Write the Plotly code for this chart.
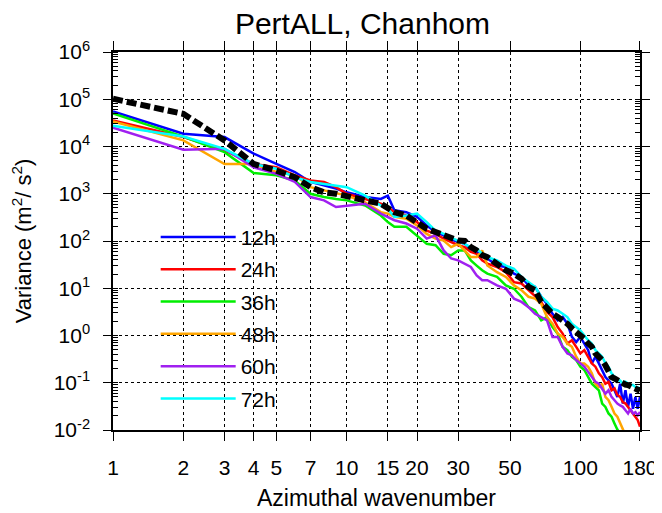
import plotly.graph_objects as go

wavenumber = [1, 2, 3, 4, 5, 6, 7, 8, 9, 10, 12, 14, 15, 16, 18, 20, 22, 24, 26, 28, 30,
              32, 34, 36, 38, 40, 44, 48, 52, 56, 60, 64, 68, 72, 76, 80, 84, 88, 92, 96,
              100, 104, 108, 112, 116, 120, 124, 128, 132, 136, 140, 144, 148, 152, 156,
              160, 164, 168, 172, 176, 180]

# log10 of variance (m^2/s^2)
log_12h = [4.74, 4.27, 4.20, 3.85, 3.63, 3.46, 3.25, 3.18, 3.11, 3.03, 2.93, 2.89, 2.96, 2.65, 2.61, 2.51,
           2.33, 2.19, 2.12, 2.03, 1.98, 1.94, 1.84, 1.77, 1.70, 1.63, 1.48, 1.45, 1.31, 1.24, 1.06,
           1.03, 0.82, 0.67, 0.46, 0.32, 0.39, 0.25, -0.03, -0.14, -0.03, -0.17, -0.31, -0.59, -0.45,
           -0.59, -0.73, -0.88, -0.95, -1.02, -1.16, -1.30, -1.02, -1.44, -1.16, -1.51, -1.23, -1.55,
           -1.30, -1.55, -1.30]
log_24h = [4.55, 4.20, 3.92, 3.63, 3.56, 3.39, 3.28, 3.25, 3.14, 3.00, 2.89, 2.79, 2.72, 2.61, 2.54, 2.40,
           2.22, 2.15, 2.05, 1.98, 1.91, 1.87, 1.77, 1.73, 1.59, 1.52, 1.45, 1.34, 1.13, 1.10, 0.96,
           0.82, 0.71, 0.50, 0.39, 0.18, 0.04, -0.17, -0.10, -0.24, -0.38, -0.31, -0.45, -0.59, -0.66,
           -0.80, -0.88, -1.02, -0.98, -1.16, -1.12, -1.26, -1.30, -1.41, -1.44, -1.51, -1.58, -1.65,
           -1.72, -1.79, -1.93]
log_36h = [4.70, 4.21, 3.88, 3.44, 3.39, 3.28, 3.00, 2.93, 2.89, 2.86, 2.75, 2.54, 2.40, 2.30, 2.30, 2.12,
           1.94, 1.91, 1.73, 1.70, 1.80, 1.80, 1.59, 1.48, 1.38, 1.31, 1.24, 1.06, 0.99, 0.82, 0.60,
           0.53, 0.32, 0.39, 0.18, 0.04, -0.24, -0.31, -0.45, -0.52, -0.66, -0.73, -0.88, -1.02, -1.09,
           -1.16, -1.44, -1.51, -1.65, -1.72, -1.86, -1.99, -2.07, -2.20, -2.35, -2.50, -2.60, -2.70,
           -2.80, -2.90, -3.00]
log_48h = [4.53, 4.13, 3.63, 3.63, 3.46, 3.39, 3.14, 3.07, 3.00, 2.96, 2.82, 2.61, 2.58, 2.51, 2.47, 2.33,
           2.15, 2.05, 2.01, 1.87, 1.94, 1.80, 1.66, 1.66, 1.80, 1.48, 1.34, 1.24, 1.06, 0.96, 0.82,
           0.78, 0.67, 0.39, 0.25, 0.04, -0.03, -0.17, -0.24, -0.45, -0.59, -0.59, -0.66, -0.80, -1.02,
           -1.09, -1.02, -1.30, -1.37, -1.51, -1.65, -1.72, -1.86, -1.99, -2.10, -2.25, -2.40, -2.50,
           -2.60, -2.70, -2.80]
log_60h = [4.40, 3.93, 3.95, 3.56, 3.42, 3.25, 2.93, 2.86, 2.72, 2.75, 2.79, 2.58, 2.51, 2.44, 2.37, 2.26,
           2.05, 2.12, 1.80, 1.63, 1.59, 1.52, 1.45, 1.27, 1.17, 1.17, 1.06, 0.99, 0.78, 0.71, 0.60,
           0.46, 0.39, 0.32, -0.03, -0.03, -0.24, -0.38, -0.42, -0.52, -0.59, -0.66, -0.77, -0.88, -0.98,
           -1.02, -1.12, -1.23, -1.16, -1.30, -1.37, -1.44, -1.48, -1.51, -1.58, -1.65, -1.55, -1.65,
           -1.62, -1.69, -1.62]
log_72h = [4.44, 4.21, 3.95, 3.63, 3.53, 3.35, 3.25, 3.21, 3.18, 3.14, 2.96, 2.75, 2.68, 2.51, 2.54, 2.58,
           2.40, 2.22, 2.15, 2.07, 2.01, 1.94, 1.87, 1.84, 1.73, 1.66, 1.59, 1.48, 1.41, 1.24, 1.13,
           1.03, 0.82, 0.71, 0.57, 0.53, 0.46, 0.39, 0.25, 0.18, 0.11, 0.00, -0.10, -0.17, -0.31,
           -0.38, -0.45, -0.59, -0.66, -0.80, -0.88, -0.95, -0.95, -1.02, -0.98, -1.02, -1.05, -1.05,
           -1.09, -1.10, -1.12]
log_mean = [5.01, 4.69, 4.13, 3.63, 3.49, 3.35, 3.14, 3.03, 3.00, 2.96, 2.86, 2.79, 2.70, 2.61, 2.54, 2.40,
            2.26, 2.19, 2.12, 2.05, 2.01, 2.00, 1.87, 1.80, 1.70, 1.66, 1.52, 1.38, 1.31, 1.20, 1.03,
            0.96, 0.71, 0.57, 0.46, 0.39, 0.32, 0.25, 0.15, 0.08, 0.00, -0.07, -0.17, -0.24, -0.38,
            -0.45, -0.52, -0.63, -0.73, -0.88, -0.91, -0.95, -0.98, -1.02, -1.04, -1.05, -1.07, -1.10,
            -1.12, -1.14, -1.17]

series_names = ["12h", "24h", "36h", "48h", "60h", "72h"]
series_logs = [log_12h, log_24h, log_36h, log_48h, log_60h, log_72h]
series_colors = ["#0000ff", "#ff0000", "#00ee00", "#ffa500", "#a020f0", "#00ffff"]

x_ticks = [1, 2, 3, 4, 5, 7, 10, 15, 20, 30, 50, 100, 180]
y_exps = [-2, -1, 0, 1, 2, 3, 4, 5, 6]

FONT = "Liberation Sans, Arial, Helvetica, sans-serif"

fig = go.Figure()
for i, (name, lg, col) in enumerate(zip(series_names, series_logs, series_colors)):
    fig.add_trace(go.Scatter(
        x=wavenumber, y=[10 ** v for v in lg], mode="lines", name=name,
        line=dict(color=col, width=2.5), legendgroup=name,
    ))
fig.add_trace(go.Scatter(
    x=wavenumber, y=[10 ** v for v in log_mean], mode="lines", name="mean",
    line=dict(color="black", width=6, dash="10px,4px"), showlegend=False,
))

# the page body adds an 8px offset, so the figure is a bit smaller than the window
fig.update_layout(
    width=654, height=505,
    margin=dict(l=105, r=22, t=44, b=83),
    paper_bgcolor="white", plot_bgcolor="white",
    font=dict(family=FONT, size=21, color="black"),
    title=dict(text="PertALL, Chanhom", x=0.542, xanchor="center", y=0.99, yanchor="top",
               font=dict(size=30, family=FONT, color="black")),
    showlegend=True,
    legend=dict(x=0.081, y=0.564, xanchor="left", yanchor="top", bgcolor="rgba(0,0,0,0)",
                font=dict(size=21), tracegroupgap=2, itemwidth=75),
)

fig.update_xaxes(
    type="log", range=[0, 2.2553], tickmode="array", tickvals=x_ticks,
    ticktext=[str(t) for t in x_ticks], automargin=False,
    ticks="outside", ticklen=9, tickwidth=1, tickcolor="black",
    showline=True, linecolor="black", linewidth=1.5, mirror="ticks",
    showgrid=True, gridcolor="black", gridwidth=1, griddash="3px,3px",
    ticklabelstandoff=9, zeroline=False, tickfont=dict(size=21),
    title=dict(text="Azimuthal wavenumber", font=dict(size=23), standoff=12),
)
fig.update_yaxes(
    type="log", range=[-2, 6], tickmode="array", tickvals=[10 ** e for e in y_exps],
    ticktext=["10<sup>%d</sup>" % e for e in y_exps], automargin=False,
    ticks="outside", ticklen=8, tickwidth=1, tickcolor="black",
    showline=True, linecolor="black", linewidth=1.5, mirror="ticks",
    showgrid=True, gridcolor="black", gridwidth=1, griddash="3px,3px",
    minor=dict(ticks="inside", ticklen=5, dtick="D1", showgrid=False, tickcolor="black"),
    ticklabelstandoff=9, zeroline=False, tickfont=dict(size=21),
    title=dict(text="Variance (m<sup>2</sup>/ s<sup>2</sup>)", font=dict(size=22), standoff=18),
)

fig.write_html("out.html")
